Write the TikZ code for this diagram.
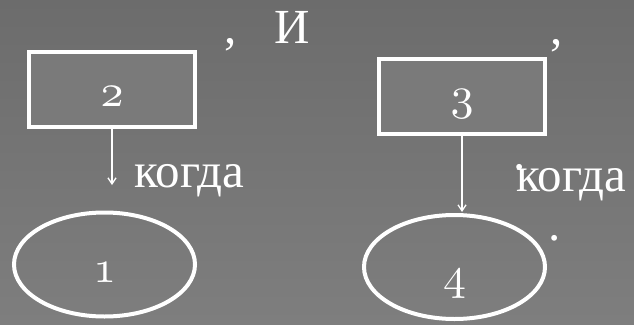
\documentclass[tikz,border=0pt]{standalone}
\usepackage{fontspec}
\setmainfont{Liberation Serif}
\usepackage{graphicx}
\usepackage{tikz}
\usetikzlibrary{positioning}
\usetikzlibrary{arrows.meta}
\usetikzlibrary{shapes.geometric}
\definecolor{bgtop}{RGB}{108,108,108}
\definecolor{bgbot}{RGB}{126,126,126}
\definecolor{boxfill}{RGB}{122,122,122}
\newcommand{\osn}[1]{\scalebox{4.6}{\fontsize{10}{12}\usefont{OML}{cmm}{m}{it}#1}}

\begin{document}
\begin{tikzpicture}[x=1pt,y=-1pt,
        box/.style={draw=white,line width=4pt,fill=boxfill,minimum width=166pt,minimum height=75pt,inner sep=0pt},
        oval/.style={ellipse,draw=white,line width=4pt,minimum width=181pt,minimum height=104pt,inner sep=0pt},
        txt/.style={text=white,font=\fontsize{49}{54}\selectfont,inner sep=0pt,anchor=base west},
        num/.style={text=white,inner sep=0pt,anchor=base},
        arr/.style={-{Straight Barb[length=6pt,width=8pt]},white,line width=1.3pt}]
            \shade[top color=bgtop,bottom color=bgbot] (0,0) rectangle (634,324);
            \useasboundingbox (0,0) rectangle (634,324);

            \node[box] (b2) at (112,89.5) {};
            \node[box] (b3) at (462,96.5) {};
            \node[oval] (e1) at (104.5,264.5) {};
            \node[oval] (e4) at (454.5,267) {};

            \node[num] (n2) at ([yshift=-16.5pt] b2.center) {\osn{2}};
            \node[num] (n3) at ([yshift=-13pt] b3.center) {\osn{3}};
            \node[num] (n1) at ([yshift=-17.5pt] e1.center) {\osn{1}};
            \node[num] (n4) at ([yshift=-22pt] e4.center) {\osn{4}};

            \node[txt] (comma1) at (224,43) {,};
            \node[txt] (andw) at (274,43) {И};
            \node[txt] (comma2) at (550,44) {,};
            \node[txt] (when1) at (134,187) {когда};
            \node[txt] (when2) at (516,191) {когда};
            \node[txt] (dot1) at (513,169) {.};
            \node[txt] (dot2) at (548,240) {.};

            \coordinate (a1) at (112,185);
            \draw[arr] (b2.south) -- (a1);
            \draw[arr] (b3.south) -- ([yshift=1pt] b3.south |- e4.north);
        \end{tikzpicture}
\end{document}
